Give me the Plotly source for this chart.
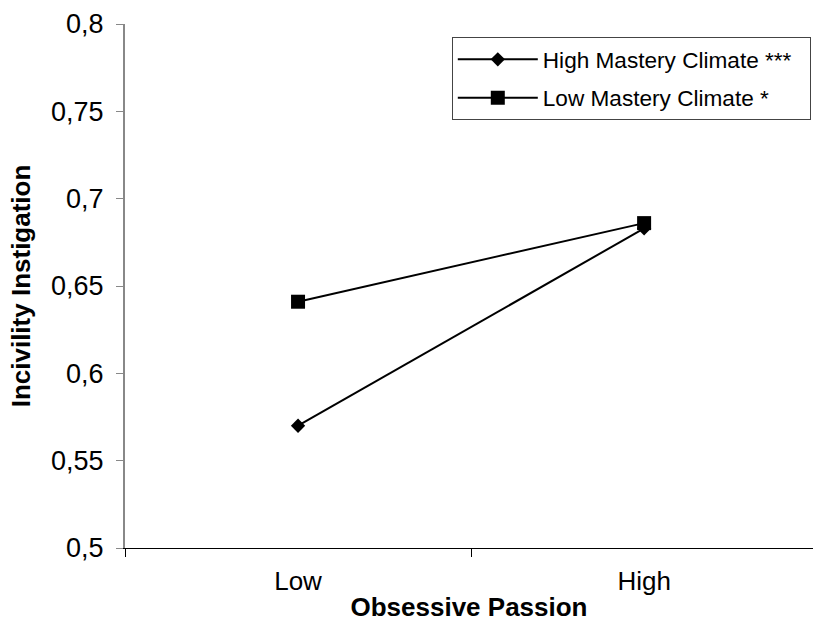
import plotly.graph_objects as go

categories = ["Low", "High"]
high_mastery = [0.570, 0.683]
low_mastery = [0.641, 0.686]
series_names = ["High Mastery Climate ***", "Low Mastery Climate *"]
y_tick_vals = [0.5, 0.55, 0.6, 0.65, 0.7, 0.75, 0.8]
y_tick_text = ["0,5", "0,55", "0,6", "0,65", "0,7", "0,75", "0,8"]

FONT = "Arial, Liberation Sans, sans-serif"
x_pos = list(range(len(categories)))

fig = go.Figure()
fig.add_trace(go.Scatter(
    x=x_pos, y=high_mastery, name=series_names[0] + "\u00a0\u00a0", mode="lines+markers",
    line=dict(color="black", width=2),
    marker=dict(symbol="diamond", size=11, color="black"),
    legendgroup="a",
))
fig.add_trace(go.Scatter(
    x=x_pos, y=low_mastery, name=series_names[1], mode="lines+markers",
    line=dict(color="black", width=2),
    marker=dict(symbol="square", size=14, color="black"),
    legendgroup="b",
))

fig.update_layout(
    width=813, height=630,
    margin=dict(l=125, r=0, t=24, b=82, autoexpand=False),
    paper_bgcolor="white", plot_bgcolor="white",
    font=dict(family=FONT, color="black", size=26),
    showlegend=True,
    legend=dict(
        x=0.475, y=0.975, xanchor="left", yanchor="top",
        bordercolor="#444", borderwidth=1, bgcolor="white",
        font=dict(size=22.6, family=FONT),
        traceorder="grouped", tracegroupgap=6, itemwidth=80,
    ),
    xaxis=dict(
        range=[-0.5, 1.488], tickmode="array", tickvals=x_pos, ticktext=categories,
        showline=True, linecolor="black", linewidth=1, ticks="",
        showgrid=False, zeroline=False, automargin=False,
        minor=dict(tick0=0.5, dtick=1, ticks="outside", ticklen=8, tickcolor="black", showgrid=False),
        ticklabelstandoff=10,
        title=dict(text="<b>Obsessive Passion</b>", standoff=2, font=dict(size=26)),
        tickfont=dict(size=26),
    ),
    yaxis=dict(
        range=[0.5, 0.8], tickmode="array", tickvals=y_tick_vals, ticktext=y_tick_text,
        showline=True, linecolor="#888", linewidth=2, ticks="outside", ticklen=7,
        tickcolor="#888", tickwidth=1, showgrid=False, zeroline=False, automargin=False,
        ticklabelstandoff=7,
        title=dict(text="<b>Incivility Instigation</b>", standoff=13, font=dict(size=26)),
        tickfont=dict(size=27),
    ),
)

fig.write_html(
    "out.html",
    config={"displayModeBar": False},
    post_script="document.body.style.margin='0px'; document.body.style.overflow='hidden';",
)
